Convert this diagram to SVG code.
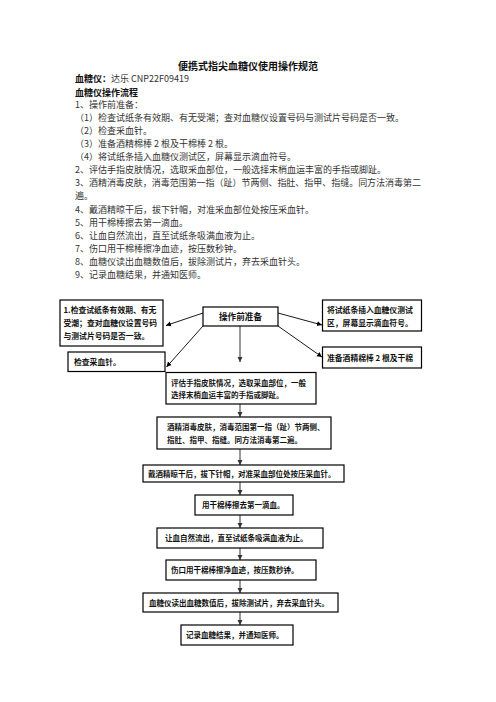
<svg xmlns="http://www.w3.org/2000/svg" width="496" height="702" viewBox="0 0 496 702">
<style>
text{font-family:"Noto Sans CJK SC","Noto Sans",sans-serif;fill:#111}
.b{font-size:9px;fill:#333}
.h{font-size:9px;font-weight:bold}
.t{font-size:10px;font-weight:bold}
.n{font-size:7.5px;font-weight:bold}
.m{font-size:7.8px;font-weight:bold}
.box{fill:#fff;stroke:#000;stroke-width:1.2}
.fl{stroke:#7f7f7f;stroke-width:1.6;fill:none}
.dl{stroke:#000;stroke-width:0.9;fill:none}
</style>
<defs>
<marker id="ag" markerUnits="userSpaceOnUse" markerWidth="6" markerHeight="6" refX="5" refY="3" orient="auto"><path d="M0,0.5L5,3L0,5.5z" fill="#333"/></marker>
<marker id="ak" markerUnits="userSpaceOnUse" markerWidth="6" markerHeight="6" refX="5" refY="3" orient="auto"><path d="M0,0.5L5,3L0,5.5z" fill="#000"/></marker>
</defs>
<rect width="496" height="702" fill="#fff"/>
<g id="doc-text">
<text class="t" x="248" y="69.6" text-anchor="middle">便携式指尖血糖仪使用操作规范</text>
<text x="75" y="82.2"><tspan class="h">血糖仪：</tspan><tspan class="b">达乐 CNP22F09419</tspan></text>
<text class="h" x="75" y="96.2">血糖仪操作流程</text>
<text class="b" x="75" y="107.7">1、操作前准备：</text>
<text class="b" x="75" y="120.8">（1）检查试纸条有效期、有无受潮；查对血糖仪设置号码与测试片号码是否一致。</text>
<text class="b" x="75" y="133.9">（2）检查采血针。</text>
<text class="b" x="75" y="147">（3）准备酒精棉棒 2 根及干棉棒 2 根。</text>
<text class="b" x="75" y="160.1">（4）将试纸条插入血糖仪测试区，屏幕显示滴血符号。</text>
<text class="b" x="75" y="173.2">2、评估手指皮肤情况，选取采血部位，一般选择末梢血运丰富的手指或脚趾。</text>
<text class="b" x="75" y="186.3" textLength="346" lengthAdjust="spacing">3、酒精消毒皮肤，消毒范围第一指（趾）节两侧、指肚、指甲、指缝。同方法消毒第二</text>
<text class="b" x="75" y="199.4">遍。</text>
<text class="b" x="75" y="212.5">4、戴酒精晾干后，拔下针帽，对准采血部位处按压采血针。</text>
<text class="b" x="75" y="225.6">5、用干棉棒擦去第一滴血。</text>
<text class="b" x="75" y="238.7">6、让血自然流出，直至试纸条吸满血液为止。</text>
<text class="b" x="75" y="251.8">7、伤口用干棉棒擦净血迹，按压数秒钟。</text>
<text class="b" x="75" y="264.9">8、血糖仪读出血糖数值后，拔除测试片，弃去采血针头。</text>
<text class="b" x="75" y="278">9、记录血糖结果，并通知医师。</text>
</g>
<g id="connectors">
<line class="dl" x1="203" y1="313" x2="166" y2="325.5" marker-end="url(#ak)"/>
<line class="dl" x1="203" y1="326" x2="166.5" y2="367" marker-end="url(#ak)"/>
<line class="dl" x1="278" y1="313" x2="322" y2="325" marker-end="url(#ak)"/>
<line class="dl" x1="278" y1="326" x2="322" y2="357" marker-end="url(#ak)"/>
<line class="fl" x1="240" y1="326" x2="240" y2="362" stroke-width="2" marker-end="url(#ag)"/>
<line class="fl" x1="240" y1="404" x2="240" y2="417" marker-end="url(#ag)"/>
<line class="fl" x1="240" y1="449" x2="240" y2="465" marker-end="url(#ag)"/>
<line class="fl" x1="240" y1="482" x2="240" y2="495" marker-end="url(#ag)"/>
<line class="fl" x1="240" y1="515" x2="240" y2="528" marker-end="url(#ag)"/>
<line class="fl" x1="240" y1="548" x2="240" y2="560" marker-end="url(#ag)"/>
<line class="fl" x1="240" y1="580" x2="240" y2="593" marker-end="url(#ag)"/>
<line class="fl" x1="240" y1="612" x2="240" y2="625" marker-end="url(#ag)"/>
</g>
<g id="n-prep">
<rect class="box" x="203" y="307" width="75" height="19"/>
<text x="240.5" y="320.1" font-size="8.6" font-weight="bold" text-anchor="middle">操作前准备</text>
</g>
<g id="n-check-strip">
<rect class="box" x="60" y="300" width="103" height="46"/>
<text class="m" x="63.5" y="312.8">1.检查试纸条有效期、有无</text>
<text class="m" x="63.5" y="325.8">受潮；查对血糖仪设置号码</text>
<text class="m" x="63.5" y="338.8">与测试片号码是否一致。</text>
</g>
<g id="n-check-needle">
<rect class="box" x="68" y="352" width="97" height="19.5"/>
<text class="m" x="74" y="364.8">检查采血针。</text>
</g>
<g id="n-insert">
<rect class="box" x="322.5" y="300" width="99" height="31"/>
<text class="m" x="327" y="312.8">将试纸条插入血糖仪测试</text>
<text class="m" x="327" y="325.8">区，屏幕显示滴血符号。</text>
</g>
<g id="n-cotton">
<rect class="box" x="322.5" y="347" width="99" height="21"/>
<text class="m" x="327" y="360.8">准备酒精棉棒 2 根及干棉</text>
</g>
<g id="n-assess">
<rect class="box" x="166" y="372.5" width="150" height="31.5"/>
<text class="n" x="171" y="385.7">评估手指皮肤情况，选取采血部位，一般</text>
<text class="n" x="171" y="397.5">选择末梢血运丰富的手指或脚趾。</text>
</g>
<g id="n-disinfect">
<rect class="box" x="157" y="417" width="174" height="32"/>
<text class="n" x="167" y="430.2">酒精消毒皮肤，消毒范围第一指（趾）节两侧、</text>
<text class="n" x="167" y="442.7">指肚、指甲、指缝。同方法消毒第二遍。</text>
</g>
<g id="n-prick">
<rect class="box" x="143" y="465" width="201" height="17"/>
<text class="n" x="148" y="476.5">戴酒精晾干后，拔下针帽，对准采血部位处按压采血针。</text>
</g>
<g id="n-wipe">
<rect class="box" x="195" y="495" width="98" height="20"/>
<text class="n" x="202" y="507.7">用干棉棒擦去第一滴血。</text>
</g>
<g id="n-flow">
<rect class="box" x="157" y="528" width="166" height="20"/>
<text class="n" x="165" y="540.7">让血自然流出，直至试纸条吸满血液为止。</text>
</g>
<g id="n-press">
<rect class="box" x="166" y="560" width="150" height="20"/>
<text class="n" x="171" y="572.7">伤口用干棉棒擦净血迹，按压数秒钟。</text>
</g>
<g id="n-read">
<rect class="box" x="143" y="593" width="195" height="19"/>
<text class="n" x="149" y="605.7">血糖仪读出血糖数值后，拔除测试片，弃去采血针头。</text>
</g>
<g id="n-record">
<rect class="box" x="181" y="625" width="112" height="20"/>
<text class="n" x="186" y="637.7">记录血糖结果，并通知医师。</text>
</g>
</svg>
